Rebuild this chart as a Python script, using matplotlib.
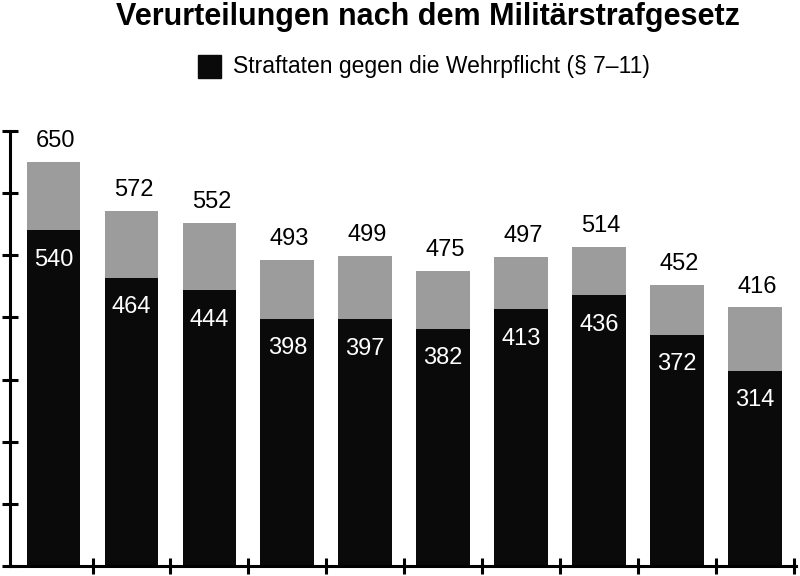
import numpy as np
import matplotlib.pyplot as plt

# Verurteilungen nach dem Militaerstrafgesetz, 10 Jahre (ohne Beschriftung)
totals = [650, 572, 552, 493, 499, 475, 497, 514, 452, 416]
wehrpflicht = [540, 464, 444, 398, 397, 382, 413, 436, 372, 314]
legend_label = 'Straftaten gegen die Wehrpflicht (§ 7–11)'
title = 'Verurteilungen nach dem Militärstrafgesetz'

plt.rcParams['font.family'] = ['Liberation Sans', 'DejaVu Sans']

other = [t - w for t, w in zip(totals, wehrpflicht)]
x = np.arange(len(totals))

fig = plt.figure(figsize=(8, 5.76), dpi=100)
ax = fig.add_axes([0.0125, 0.0174, 0.9825, 0.7552])

ax.bar(x, wehrpflicht, width=0.69, color='#0a0a0a', zorder=2)
ax.bar(x, other, bottom=wehrpflicht, width=0.69, color='#9c9c9c', zorder=2)

for xi, t, w in zip(x, totals, wehrpflicht):
    ax.text(xi + 0.03, t + 16, str(t), ha='center', va='bottom', fontsize=17,
            color='black')
    ax.text(xi, w - 30, str(w), ha='center', va='top', fontsize=17,
            color='white')

ax.set_xlim(-0.56, 9.53)
ax.set_ylim(0, 700)
ax.set_yticks(np.arange(0, 701, 100))
ax.set_xticks(x + 0.5)
ax.set_xticklabels([])
ax.set_yticklabels([])
ax.tick_params(direction='inout', length=11, width=2.2, color='black')
for side in ['top', 'right']:
    ax.spines[side].set_visible(False)
for side in ['left', 'bottom']:
    ax.spines[side].set_linewidth(2.2)
    ax.spines[side].set_zorder(3)

fig.text(428 / 800, 1 - 17 / 576, title, ha='center', va='center', fontsize=22,
         fontweight='bold')
fig.patches.append(plt.Rectangle((198 / 800, 1 - 78 / 576), 23 / 800, 23 / 576,
                                 transform=fig.transFigure, color='#0a0a0a',
                                 figure=fig))
fig.text(233 / 800, 1 - 67 / 576, legend_label, ha='left', va='center',
         fontsize=16.5)

fig.savefig('out.png', dpi=100)
